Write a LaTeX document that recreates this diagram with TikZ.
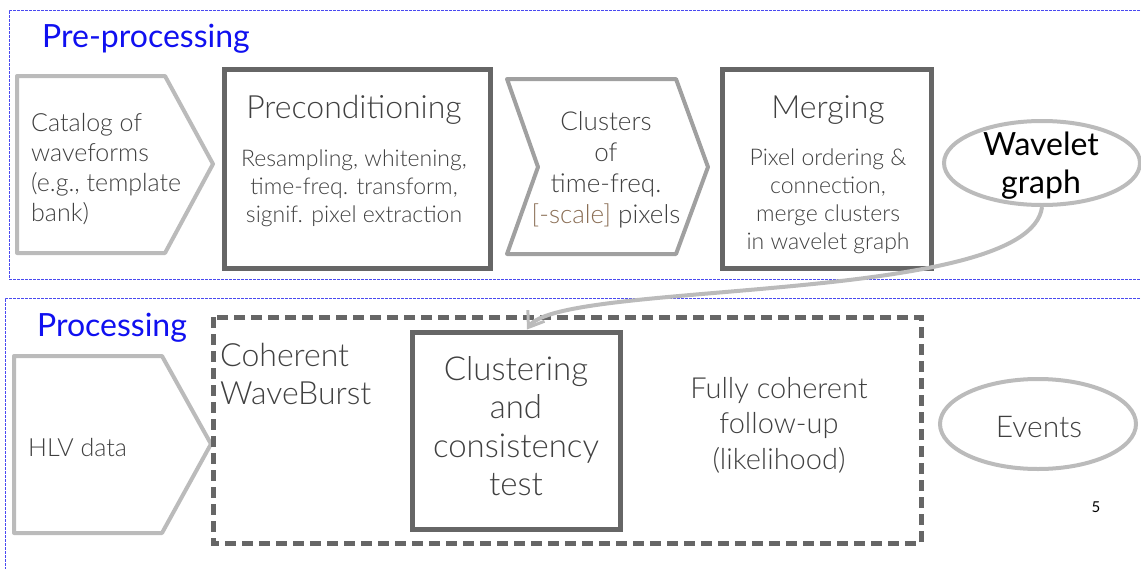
\documentclass[tikz,border=0pt]{standalone}
\usepackage{fontspec}
\setmainfont{Lato}
\newfontfamily\lightfont{Lato Light}
\usetikzlibrary{shapes.geometric,arrows.meta}
\definecolor{boxgray}{HTML}{666666}
\definecolor{lightgray}{HTML}{BBBBBB}
\definecolor{midgray}{HTML}{A0A0A0}
\definecolor{txtgray}{HTML}{404040}
\definecolor{headblue}{HTML}{1010F0}
\definecolor{frameblue}{HTML}{4A4AF0}
\definecolor{scalebrown}{HTML}{8A6E55}
\tikzset{
  frame/.style={draw=frameblue, line width=0.8pt, dash pattern=on 3pt off 1pt},
  lightshape/.style={draw=lightgray, line width=4pt, line join=round},
  midshape/.style={draw=midgray, line width=4pt, line join=round},
  darkbox/.style={draw=boxgray, line width=5pt, rectangle, inner sep=0pt},
  ovalbox/.style={draw=lightgray, line width=4pt, ellipse, inner sep=0pt},
  heading/.style={text=headblue, font=\fontsize{32}{36}\selectfont},
  txt/.style={text=txtgray, inner sep=0pt},
}
\begin{document}
\begin{tikzpicture}[x=1pt,y=-1pt]
\useasboundingbox (0,0) rectangle (1141,568);
% frames
\draw[frame] (1160,10) -- (9,10) -- (9,279) -- (1160,279);
\draw[frame] (1160,298) -- (5,298) -- (5,580);
% headings
\node[heading] (pre) at (146,39) {Pre-processing};
\node[heading] (proc) at (112,328) {Processing};
% catalog pentagon
\draw[lightshape] (17,76) -- (165,76) -- (213,164) -- (165,253) -- (17,253) -- cycle;
\node[txt, anchor=west, align=left, font=\lightfont\fontsize{25}{30}\selectfont] (cat) at (31,169)
  {Catalog of\\waveforms\\(e.g., template\\bank)};
% preconditioning
\node[darkbox, minimum width=266pt, minimum height=199pt] (prec) at (357,168.5) {};
\node[txt, font=\lightfont\fontsize{32}{36}\selectfont] (prect) at (354,110) {Preconditioning};
\node[txt, align=center, font=\lightfont\fontsize{23}{28}\selectfont] (precs) at (354,188)
  {Resampling, whitening,\\time-freq. transform,\\signif. pixel extraction};
% clusters chevron
\draw[midshape] (507,79) -- (676,79) -- (708,167) -- (676,254) -- (507,254) -- (538,167) -- cycle;
\node[txt, align=center, font=\lightfont\fontsize{26}{31}\selectfont] (clus) at (606,170)
  {Clusters\\of\\time-freq.\\{\color{scalebrown}[-scale]} pixels};
% merging
\node[darkbox, minimum width=209pt, minimum height=199pt] (merg) at (826.5,168.5) {};
\node[txt, font=\lightfont\fontsize{32}{36}\selectfont] (mergt) at (828,110) {Merging};
\node[txt, align=center, font=\lightfont\fontsize{23}{28}\selectfont] (mergs) at (828,201)
  {Pixel ordering \&\\connection,\\merge clusters\\in wavelet graph};
% wavelet graph
\node[ovalbox, minimum width=196pt, minimum height=84pt] (wg) at (1042,163) {};
\node[inner sep=0pt, align=center, text=black, font=\fontsize{32}{38}\selectfont] (wgt) at (1041,166) {Wavelet\\graph};
% HLV pentagon
\draw[lightshape] (14,356) -- (162,356) -- (211,444) -- (162,533) -- (14,533) -- cycle;
\node[txt, anchor=west, font=\lightfont\fontsize{25}{28}\selectfont] (hlv) at (28,447) {HLV data};
% coherent waveburst dashed box
\draw[draw=boxgray, line width=5pt, dash pattern=on 11pt off 6pt] (213,317) rectangle (921,543);
\node[txt, anchor=west, align=left, font=\lightfont\fontsize{32}{38}\selectfont] (cwb) at (220,374)
  {Coherent\\WaveBurst};
% clustering box
\node[darkbox, minimum width=208pt, minimum height=197pt] (clu) at (516,430.5) {};
\node[txt, align=center, font=\lightfont\fontsize{33}{38.3}\selectfont] (clut) at (516,426)
  {Clustering\\and\\consistency\\test};
% fully coherent
\node[txt, align=center, font=\lightfont\fontsize{29}{35.5}\selectfont] (full) at (779,425)
  {Fully coherent\\follow-up\\(likelihood)};
% events
\node[ovalbox, minimum width=196pt, minimum height=90pt] (ev) at (1038,424) {};
\node[txt, font=\lightfont\fontsize{30}{30}\selectfont] (evt) at (1039,427) {Events};
% page number
\node[inner sep=0pt, text=black, font=\fontsize{15}{18}\selectfont] (pg) at (1096,507) {5};
% connector
\draw[draw=lightgray, line width=4pt, -{Straight Barb[length=14pt,width=20pt,line width=3pt]}]
  (wg.south) .. controls (1030,305) and (560,280) .. ([xshift=11pt]clu.north);
\end{tikzpicture}
\end{document}
